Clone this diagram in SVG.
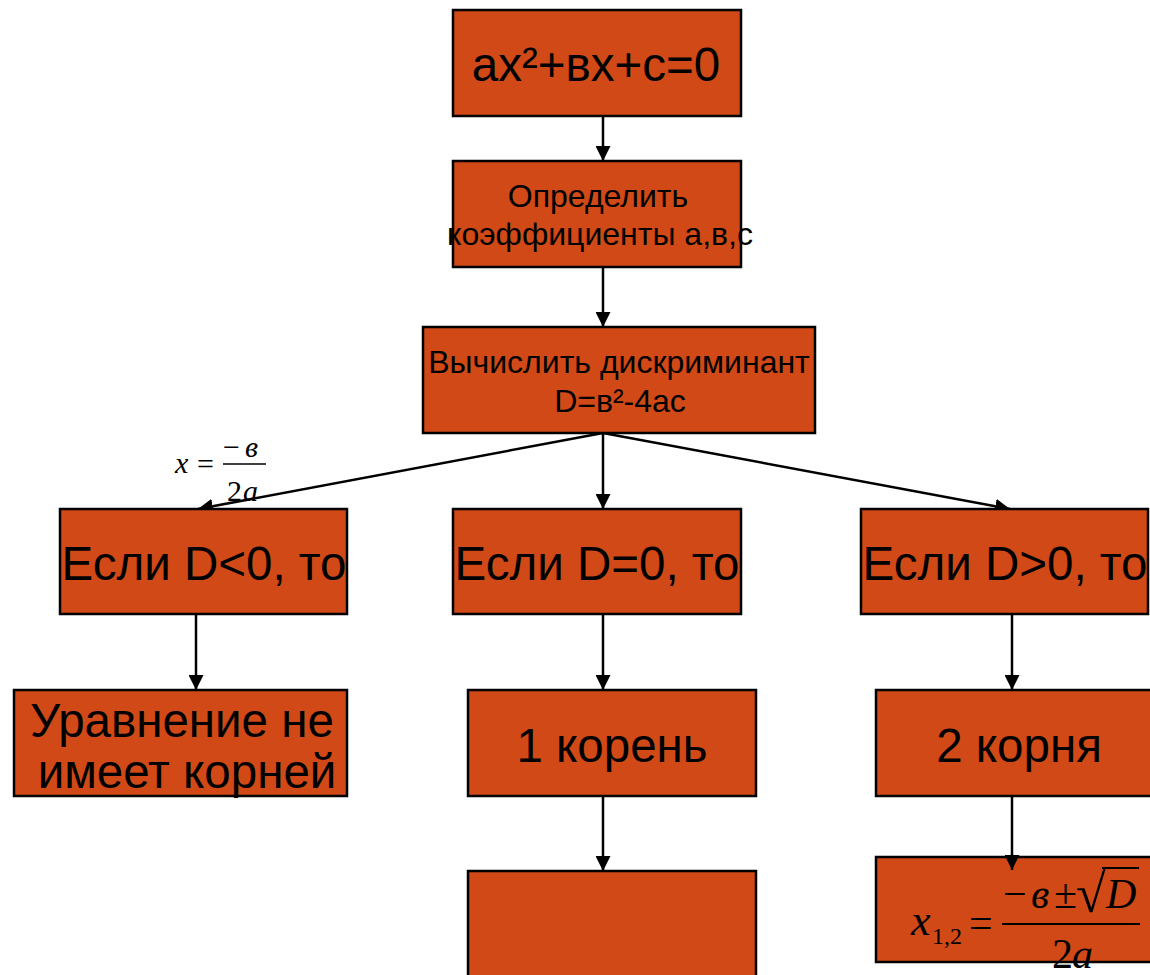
<svg xmlns="http://www.w3.org/2000/svg" width="1150" height="975" viewBox="0 0 1150 975">
<defs>
<marker id="ah" viewBox="0 0 10 10" refX="10" refY="5" markerWidth="6" markerHeight="6" markerUnits="strokeWidth" orient="auto">
<path d="M0,0 L10,5 L0,10 z" fill="#000"/>
</marker>
<style>
.box{fill:#D14916;stroke:#000;stroke-width:2.5}
.t{font-family:"Liberation Sans",Arial,sans-serif;fill:#000;text-anchor:middle}
.big{font-size:47.5px}
.mid{font-size:32px}
.mi{font-family:"Liberation Serif","Times New Roman",serif;font-style:italic;fill:#000}
.mr{font-family:"Liberation Serif","Times New Roman",serif;font-style:normal;fill:#000}
.c{stroke:#000;stroke-width:2.5;fill:none;marker-end:url(#ah)}
</style>
</defs>
<rect width="1150" height="975" fill="#fff"/>
<g id="connectors">
<line class="c" x1="603" y1="116" x2="603" y2="161"/>
<line class="c" x1="603" y1="267" x2="603" y2="327"/>
<line class="c" x1="603" y1="433" x2="603" y2="509"/>
<line class="c" x1="603" y1="433" x2="198" y2="509"/>
<line class="c" x1="603" y1="433" x2="1010" y2="509"/>
<line class="c" x1="196" y1="614" x2="196" y2="690"/>
<line class="c" x1="603" y1="614" x2="603" y2="690"/>
<line class="c" x1="1012" y1="614" x2="1012" y2="690"/>
<line class="c" x1="603" y1="796" x2="603" y2="871"/>
</g>
<g id="n1"><rect class="box" x="453" y="10" width="288" height="106"/><text class="t big" x="596" y="81">ах²+вх+с=0</text></g>
<g id="n2"><rect class="box" x="453" y="161" width="288" height="106"/><text class="t mid" x="598" y="207">Определить</text><text class="t mid" x="600" y="245">коэффициенты а,в,с</text></g>
<g id="n3"><rect class="box" x="423" y="327" width="392" height="106"/><text class="t mid" x="619" y="373">Вычислить дискриминант</text><text class="t mid" x="620" y="412">D=в²-4ас</text></g>
<g id="n4"><rect class="box" x="60" y="509" width="287" height="105"/><text class="t big" x="204" y="580">Если D&lt;0, то</text></g>
<g id="n5"><rect class="box" x="453" y="509" width="288" height="105"/><text class="t big" x="597" y="580">Если D=0, то</text></g>
<g id="n6"><rect class="box" x="861" y="509" width="287" height="105"/><text class="t big" x="1005" y="580">Если D&gt;0, то</text></g>
<g id="n7"><rect class="box" x="14" y="690" width="333" height="106"/><text class="t big" x="182" y="737">Уравнение не</text><text class="t big" x="187" y="788">имеет корней</text></g>
<g id="n8"><rect class="box" x="468" y="690" width="288" height="106"/><text class="t big" x="612" y="762">1 корень</text></g>
<g id="n9"><rect class="box" x="876" y="690" width="280" height="106"/><text class="t big" x="1019" y="762">2 корня</text></g>
<g id="n10"><rect class="box" x="468" y="871" width="288" height="120"/></g>
<g id="n11"><rect class="box" x="876" y="857" width="280" height="105"/>
<text class="mi" font-size="44" x="911" y="935">x</text>
<text class="mr" font-size="24" x="932" y="944">1,2</text>
<text class="mr" font-size="42" x="969" y="937">=</text>
<text class="mr" font-size="42" x="1003" y="908">−</text>
<text class="mi" font-size="42" x="1031" y="908">в</text>
<text class="mr" font-size="42" x="1054" y="908">±</text>
<text class="mr" font-size="54" x="1076" y="912">√</text>
<line x1="1102" y1="868" x2="1139" y2="868" stroke="#000" stroke-width="2"/>
<text class="mi" font-size="42" x="1106" y="908">D</text>
<line x1="1002" y1="924" x2="1140" y2="924" stroke="#000" stroke-width="2"/>
<text class="mr" font-size="42" x="1052" y="968">2</text><text class="mi" font-size="42" x="1072" y="968">a</text>
</g>
<g id="connector-formula"><line class="c" x1="1012" y1="796" x2="1012" y2="870"/></g>
<g id="formula-left">
<text class="mi" font-size="30" x="175" y="473">x</text>
<text class="mr" font-size="30" x="197" y="474">=</text>
<text class="mr" font-size="30" x="223" y="457">−</text>
<text class="mi" font-size="30" x="245" y="457">в</text>
<line x1="223" y1="464" x2="266" y2="464" stroke="#000" stroke-width="1.3"/>
<text class="mr" font-size="30" x="227" y="501">2</text><text class="mi" font-size="30" x="243" y="501">a</text>
</g>
</svg>
